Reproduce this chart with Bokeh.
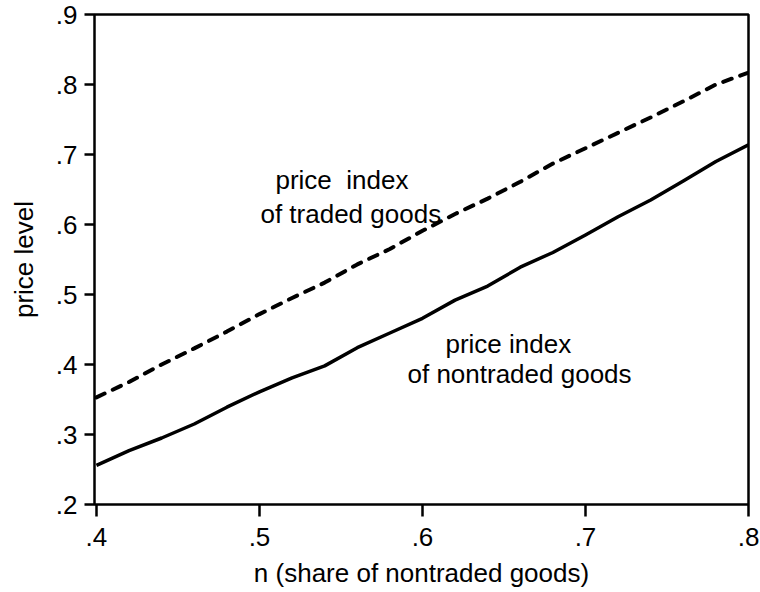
from bokeh.plotting import figure
from bokeh.models import Range1d, FixedTicker, Label
from bokeh.embed import file_html
from bokeh.resources import INLINE

# data
n_share = [0.40, 0.42, 0.44, 0.46, 0.48, 0.50, 0.52, 0.54, 0.56, 0.58, 0.60,
           0.62, 0.64, 0.66, 0.68, 0.70, 0.72, 0.74, 0.76, 0.78, 0.80]
traded = [0.353, 0.375, 0.400, 0.423, 0.447, 0.472, 0.495, 0.517, 0.543, 0.565, 0.591,
          0.615, 0.637, 0.661, 0.687, 0.709, 0.731, 0.753, 0.776, 0.800, 0.817]
nontraded = [0.256, 0.277, 0.295, 0.315, 0.339, 0.361, 0.381, 0.398, 0.424, 0.445, 0.466,
             0.492, 0.512, 0.539, 0.560, 0.585, 0.611, 0.635, 0.662, 0.690, 0.714]
x_ticks = [0.4, 0.5, 0.6, 0.7, 0.8]
x_tick_labels = [".4", ".5", ".6", ".7", ".8"]
y_ticks = [0.2, 0.3, 0.4, 0.5, 0.6, 0.7, 0.8, 0.9]
y_tick_labels = [".2", ".3", ".4", ".5", ".6", ".7", ".8", ".9"]

FONT = "Liberation Sans"
FS = "26px"

p = figure(width=760, height=592, output_backend="svg", toolbar_location=None,
           x_range=Range1d(0.3988, 0.8), y_range=Range1d(0.2, 0.9),
           min_border_left=94, min_border_right=12, min_border_top=14, min_border_bottom=88,
           background_fill_color="white", border_fill_color="white")

p.xgrid.visible = False
p.ygrid.visible = False
p.outline_line_color = "black"
p.outline_line_width = 2.5
p.outline_line_alpha = 1.0

p.xaxis.ticker = FixedTicker(ticks=x_ticks)
p.yaxis.ticker = FixedTicker(ticks=y_ticks)
p.xaxis.major_label_overrides = {float(v): s for v, s in zip(x_ticks, x_tick_labels)}
p.yaxis.major_label_overrides = {float(v): s for v, s in zip(y_ticks, y_tick_labels)}

for ax in (p.xaxis, p.yaxis):
    ax.axis_line_color = None
    ax.major_tick_in = 0
    ax.minor_tick_line_color = None
    ax.major_tick_line_color = "black"
    ax.major_tick_line_width = 2.5
    ax.major_label_text_font = FONT
    ax.major_label_text_font_size = FS
    ax.major_label_text_color = "black"
    ax.axis_label_text_font = FONT
    ax.axis_label_text_font_size = FS
    ax.axis_label_text_font_style = "normal"
    ax.axis_label_text_color = "black"

p.xaxis.major_tick_out = 12
p.yaxis.major_tick_out = 10
p.xaxis.major_label_standoff = 11
p.yaxis.major_label_standoff = 7
p.xaxis.axis_label = "n (share of nontraded goods)"
p.yaxis.axis_label = "price level"
p.xaxis.axis_label_standoff = 9
p.yaxis.axis_label_standoff = 14

p.line(n_share, traded, line_color="black", line_width=4, line_dash="9 9", line_cap="round")
p.line(n_share, nontraded, line_color="black", line_width=3.5, line_join="round")

for x, y, t in [(0.5098, 0.6629, "price\u00a0 index"), (0.5006, 0.6157, "of traded goods"),
                (0.6141, 0.4300, "price index"), (0.5908, 0.3871, "of nontraded goods")]:
    p.add_layout(Label(x=x, y=y, text=t, text_font=FONT, text_font_size=FS,
                       text_baseline="alphabetic", text_color="black"))

open("out.html", "w").write(file_html(p, INLINE))
